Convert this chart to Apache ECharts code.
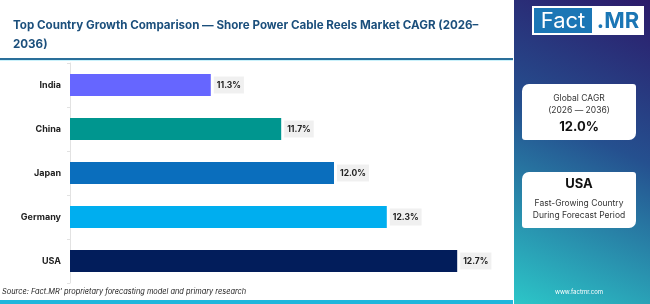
<!DOCTYPE html>
<html>
<head>
<meta charset="utf-8">
<script src="https://cdn.jsdelivr.net/npm/echarts@6/dist/echarts.min.js"></script>
<style>
  html, body { margin: 0; padding: 0; background: #fff; }
  #chart { width: 650px; height: 304px; }
</style>
</head>
<body>
<div id="chart"></div>
<script>
// 各国 CAGR 数据
const countries = ["India", "China", "Japan", "Germany", "USA"];
const cagrValues = [11.3, 11.7, 12.0, 12.3, 12.7];
const barColors = ["#6666ff", "#00968f", "#0a6ebd", "#00aeef", "#021d5b"];
const globalCagr = "12.0%";
const fastestCountry = "USA";

const chart = echarts.init(document.getElementById("chart"));
const font = "Inter, 'Noto Sans', sans-serif";

const option = {
  backgroundColor: "#ffffff",
  animation: false,
  title: {
    text: "Top Country Growth Comparison — Shore Power Cable Reels Market CAGR (2026–\n2036)",
    left: 8,
    top: 11,
    textStyle: {
      color: "#1b4f7c",
      fontFamily: font,
      fontWeight: 700,
      fontSize: 11.6,
      lineHeight: 19,
    },
  },
  grid: {
    left: 70,
    top: 63,
    width: 440,
    height: 220,
  },
  xAxis: {
    type: "value",
    min: 10.5,
    max: 13,
    show: false,
  },
  yAxis: {
    type: "category",
    data: countries,
    inverse: true,
    axisLine: { show: true, lineStyle: { color: "#e2e2e2", width: 1 } },
    axisTick: { show: true, length: 3, lineStyle: { color: "#e2e2e2" } },
    axisLabel: {
      color: "#222",
      fontFamily: font,
      fontWeight: 700,
      fontSize: 9,
      margin: 9,
    },
  },
  series: [
    {
      type: "bar",
      barWidth: 22,
      data: cagrValues.map((v, i) => ({
        value: v,
        itemStyle: { color: barColors[i] },
      })),
      label: {
        show: true,
        position: "right",
        distance: 3,
        formatter: (p) => p.value.toFixed(1) + "%",
        color: "#222",
        fontFamily: font,
        fontWeight: 700,
        fontSize: 8.5,
        backgroundColor: "#f0f0f0",
        padding: [4, 3],
      },
    },
  ],
  graphic: [
    // 标题下划线
    { type: "rect", shape: { x: 0, y: 58, width: 513, height: 2 }, style: { fill: "#2a6f9a" }, silent: true },
    { type: "rect", shape: { x: 0, y: 60, width: 513, height: 1 }, style: { fill: "#c9f1fb" }, silent: true },
    // 底部色条
    { type: "rect", shape: { x: 0, y: 300, width: 513, height: 4 }, style: { fill: "#1fb6dc" }, silent: true },
    {
      type: "text",
      left: 2,
      top: 288,
      style: {
        text: "Source: Fact.MR' proprietary forecasting model and primary research",
        fill: "#222",
        font: "italic 7.4px " + font,
      },
    },
    // 右侧面板
    {
      type: "rect",
      shape: { x: 514, y: 0, width: 136, height: 304 },
      style: {
        fill: new echarts.graphic.LinearGradient(1, 0, 0, 1, [
          { offset: 0, color: "#2c1a6a" },
          { offset: 0.45, color: "#25508f" },
          { offset: 1, color: "#2cc6c8" },
        ]),
      },
      silent: true,
    },
    // Logo
    { type: "rect", shape: { x: 532, y: 6, width: 112, height: 29 }, style: { fill: "#ffffff" } },
    { type: "rect", shape: { x: 534, y: 8, width: 58, height: 25 }, style: { fill: "#1b76b5" } },
    {
      type: "text",
      x: 563, y: 21,
      style: { text: "Fact", fill: "#ffffff", font: "400 22px " + font, align: "center", verticalAlign: "middle" },
    },
    {
      type: "text",
      x: 618, y: 21,
      style: { text: ".MR", fill: "#1b76b5", font: "700 22px " + font, align: "center", verticalAlign: "middle" },
    },
    // 卡片 1
    { type: "rect", shape: { x: 522, y: 84, width: 114, height: 56, r: [7, 3, 7, 3] }, style: { fill: "#ffffff" } },
    {
      type: "text", x: 579, y: 98,
      style: { text: "Global CAGR", fill: "#333", font: "400 8.5px " + font, align: "center", verticalAlign: "middle" },
    },
    {
      type: "text", x: 579, y: 110,
      style: { text: "(2026 — 2036)", fill: "#333", font: "400 8.5px " + font, align: "center", verticalAlign: "middle" },
    },
    {
      type: "text", x: 579, y: 127,
      style: { text: globalCagr, fill: "#111", font: "700 13px " + font, align: "center", verticalAlign: "middle" },
    },
    // 卡片 2
    { type: "rect", shape: { x: 522, y: 172, width: 114, height: 56, r: [7, 3, 7, 3] }, style: { fill: "#ffffff" } },
    {
      type: "text", x: 579, y: 184,
      style: { text: fastestCountry, fill: "#111", font: "700 13px " + font, align: "center", verticalAlign: "middle" },
    },
    {
      type: "text", x: 579, y: 203,
      style: { text: "Fast-Growing Country", fill: "#333", font: "400 8.5px " + font, align: "center", verticalAlign: "middle" },
    },
    {
      type: "text", x: 579, y: 215,
      style: { text: "During Forecast Period", fill: "#333", font: "400 8.5px " + font, align: "center", verticalAlign: "middle" },
    },
    {
      type: "text", x: 579, y: 292,
      style: { text: "www.factmr.com", fill: "#ffffff", font: "400 6px " + font, align: "center", verticalAlign: "middle" },
    },
  ],
};

chart.setOption(option);
</script>
</body>
</html>
